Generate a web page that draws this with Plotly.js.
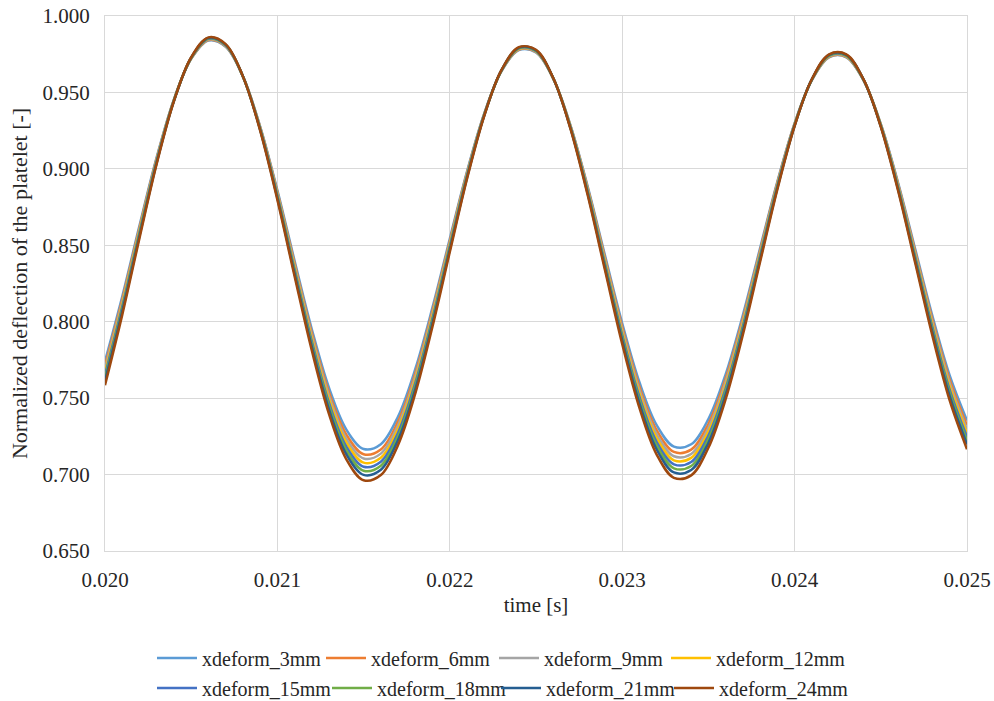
<!DOCTYPE html>
<html>
<head>
<meta charset="utf-8">
<script src="https://cdn.plot.ly/plotly-3.0.1.min.js"></script>
<style>html,body{margin:0;padding:0;background:#fff;}#chart{width:994px;height:701px;}</style>
</head>
<body>
<div id="chart"></div>
<script>
const time = [0.0200,0.0201,0.0202,0.0203,0.0204,0.0205,0.0206,0.0207,0.0208,0.0209,
  0.0210,0.0211,0.0212,0.0213,0.0214,0.0215,0.0216,0.0217,0.0218,0.0219,
  0.0220,0.0221,0.0222,0.0223,0.0224,0.0225,0.0226,0.0227,0.0228,0.0229,
  0.0230,0.0231,0.0232,0.0233,0.0234,0.0235,0.0236,0.0237,0.0238,0.0239,
  0.0240,0.0241,0.0242,0.0243,0.0244,0.0245,0.0246,0.0247,0.0248,0.0249,0.0250];

const seriesNames = ["xdeform_3mm","xdeform_6mm","xdeform_9mm","xdeform_12mm",
  "xdeform_15mm","xdeform_18mm","xdeform_21mm","xdeform_24mm"];

const xdeform_3mm = [.7741,.8165,.8629,.9077,.9455,.9720,.9840,.9799,.9605,.9277,.8859,.8397,.7949,.7565,.7294,.7167,.7199,.7380,.7691,.8095,.8542,.8984,.9363,.9639,.9777,.9761,.9591,.9285,.8884,.8434,.7990,.7604,.7323,.7183,.7198,.7363,.7656,.8044,.8482,.8917,.9298,.9580,.9730,.9730,.9579,.9294,.8911,.8473,.8035,.7647,.7354];
const xdeform_6mm = [.7714,.8145,.8615,.9069,.9453,.9722,.9843,.9802,.9605,.9273,.8849,.8380,.7925,.7536,.7261,.7133,.7164,.7348,.7663,.8074,.8528,.8975,.9360,.9641,.9780,.9764,.9591,.9281,.8875,.8418,.7967,.7575,.7290,.7148,.7163,.7331,.7628,.8022,.8467,.8908,.9295,.9581,.9733,.9733,.9580,.9291,.8902,.8458,.8013,.7619,.7322];
const xdeform_9mm = [.7693,.8128,.8603,.9063,.9451,.9723,.9846,.9804,.9605,.9269,.8840,.8366,.7906,.7512,.7234,.7105,.7137,.7323,.7642,.8057,.8516,.8969,.9358,.9642,.9783,.9767,.9592,.9278,.8867,.8405,.7948,.7552,.7264,.7120,.7135,.7305,.7606,.8004,.8455,.8901,.9292,.9582,.9736,.9736,.9581,.9288,.8895,.8445,.7995,.7596,.7296];
const xdeform_12mm = [.7672,.8113,.8593,.9058,.9450,.9724,.9849,.9807,.9605,.9265,.8832,.8353,.7888,.7490,.7209,.7078,.7110,.7298,.7621,.8040,.8505,.8962,.9356,.9643,.9785,.9769,.9592,.9275,.8859,.8392,.7930,.7530,.7239,.7093,.7109,.7281,.7584,.7987,.8443,.8894,.9290,.9583,.9738,.9738,.9582,.9286,.8888,.8433,.7978,.7575,.7271];
const xdeform_15mm = [.7652,.8097,.8582,.9052,.9448,.9726,.9851,.9809,.9605,.9262,.8824,.8339,.7870,.7467,.7183,.7051,.7084,.7274,.7600,.8024,.8493,.8956,.9354,.9644,.9788,.9771,.9593,.9272,.8852,.8379,.7913,.7508,.7213,.7067,.7082,.7256,.7563,.7970,.8431,.8887,.9287,.9584,.9741,.9741,.9583,.9283,.8881,.8421,.7961,.7553,.7246];
const xdeform_18mm = [.7632,.8081,.8572,.9046,.9447,.9727,.9854,.9811,.9605,.9258,.8816,.8327,.7852,.7446,.7159,.7025,.7058,.7250,.7579,.8008,.8482,.8950,.9352,.9645,.9790,.9773,.9593,.9269,.8844,.8367,.7896,.7487,.7189,.7041,.7056,.7232,.7542,.7954,.8419,.8881,.9285,.9584,.9743,.9743,.9583,.9281,.8874,.8410,.7944,.7533,.7222];
const xdeform_21mm = [.7612,.8066,.8561,.9041,.9445,.9728,.9857,.9813,.9605,.9255,.8808,.8313,.7834,.7423,.7133,.6998,.7031,.7226,.7558,.7991,.8471,.8943,.9350,.9646,.9793,.9776,.9593,.9266,.8837,.8354,.7878,.7465,.7164,.7014,.7030,.7207,.7521,.7937,.8407,.8874,.9282,.9585,.9746,.9746,.9584,.9278,.8867,.8398,.7927,.7511,.7197];
const xdeform_24mm = [.7585,.8045,.8547,.9033,.9443,.9730,.9860,.9816,.9605,.9250,.8797,.8296,.7810,.7394,.7100,.6963,.6997,.7194,.7531,.7970,.8456,.8935,.9347,.9647,.9796,.9779,.9594,.9262,.8827,.8338,.7855,.7436,.7131,.6979,.6995,.7175,.7493,.7915,.8392,.8865,.9279,.9586,.9749,.9749,.9585,.9275,.8858,.8382,.7905,.7483,.7165];

const xTicks = [0.020,0.021,0.022,0.023,0.024,0.025];
const yTicks = [0.650,0.700,0.750,0.800,0.850,0.900,0.950,1.000];

const allSeries = [xdeform_3mm,xdeform_6mm,xdeform_9mm,xdeform_12mm,xdeform_15mm,xdeform_18mm,xdeform_21mm,xdeform_24mm];
const colors = ["#5B9BD5","#ED7D31","#A5A5A5","#FFC000","#4472C4","#70AD47","#255E91","#9E480E"];

const legendIds = ['legend','legend2','legend3','legend4','legend5','legend6','legend7','legend8'];
const traces = allSeries.map((ys,i)=>({
  x: time, y: ys, name: seriesNames[i], type:'scatter', mode:'lines',
  line:{color:colors[i], width:2.5, shape:'spline', smoothing:1},
  legend: legendIds[i]
}));

const font = {family:'Liberation Serif, Times New Roman, serif', color:'#262626'};
// legend anchor positions in pixels of the 994x701 canvas
const legendPx = [[152,658],[321,658],[494,658],[666,658],[152,688],[327,688],[496,688],[669,688]];

const layout = {
  width:994, height:701,
  margin:{l:105, r:27, t:16, b:150},
  paper_bgcolor:'#fff', plot_bgcolor:'#fff',
  font:{...font, size:20},
  showlegend:true,
  xaxis:{range:[0.020,0.025], tickvals:xTicks, tickformat:'.3f', showgrid:true, gridcolor:'#D9D9D9', gridwidth:1,
    showline:true, linecolor:'#D9D9D9', mirror:true, zeroline:false, ticks:'', ticklabelstandoff:10, tickfont:{...font, size:21},
    title:{text:'time [s]', font:{...font, size:21}, standoff:6}},
  yaxis:{range:[0.650,1.000], tickvals:yTicks, tickformat:'.3f', showgrid:true, gridcolor:'#D9D9D9', gridwidth:1,
    showline:true, linecolor:'#D9D9D9', mirror:true, zeroline:false, ticks:'', ticklabelstandoff:10, tickfont:{...font, size:21},
    title:{text:'Normalized deflection of the platelet [-]', font:{...font, size:22}, standoff:8}}
};
legendIds.forEach((id,i)=>{
  layout[id] = {orientation:'h', xref:'container', yref:'container', xanchor:'left', yanchor:'middle',
    x: legendPx[i][0]/994, y: 1 - legendPx[i][1]/701,
    font:{...font, size:20}, itemwidth:40, bgcolor:'rgba(0,0,0,0)'};
});

Plotly.newPlot('chart', traces, layout, {displayModeBar:false, staticPlot:true});
</script>
</body>
</html>
